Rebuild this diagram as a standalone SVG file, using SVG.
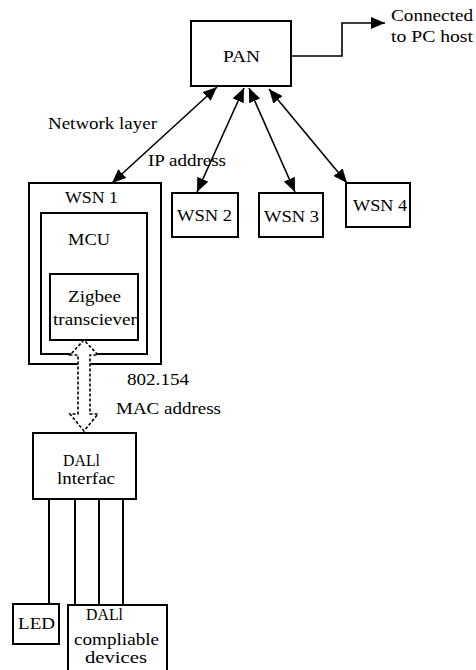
<svg xmlns="http://www.w3.org/2000/svg" width="476" height="670" viewBox="0 0 476 670">
<style>
  .box { fill: #fff; stroke: #000; stroke-width: 2; }
  .t { font-family: "Liberation Serif", "DejaVu Serif", "Times New Roman", serif; font-size: 17px; fill: #000; }
  .ln { fill: none; stroke: #000; stroke-width: 1.6; }
  .bus { fill: none; stroke: #000; stroke-width: 2; }
  .dash { fill: #fff; stroke: #000; stroke-width: 1.6; stroke-dasharray: 3 2; }
</style>
<defs>
  <marker id="ah" viewBox="0 0 14 12" refX="14" refY="6" markerWidth="14" markerHeight="12" markerUnits="userSpaceOnUse" orient="auto-start-reverse">
    <path d="M0,0 L14,6 L0,12 Z" fill="#000"/>
  </marker>
</defs>
<rect width="476" height="670" fill="#fff"/>

<g id="labels" font-family="Liberation Serif, DejaVu Serif, serif">
  <text class="t" x="391" y="21" textLength="82" lengthAdjust="spacingAndGlyphs">Connected</text>
  <text class="t" x="391" y="42" textLength="82" lengthAdjust="spacingAndGlyphs">to PC host</text>
  <text class="t" x="48" y="129" textLength="109" lengthAdjust="spacingAndGlyphs">Network layer</text>
  <text class="t" x="148" y="166" textLength="78" lengthAdjust="spacingAndGlyphs">IP address</text>
  <text class="t" x="127" y="385" textLength="62" lengthAdjust="spacingAndGlyphs">802.154</text>
  <text class="t" x="116" y="414" textLength="105" lengthAdjust="spacingAndGlyphs">MAC address</text>
</g>

<g id="pan">
  <rect class="box" x="191" y="21" width="100" height="65"/>
  <text class="t" x="223" y="62" textLength="37" lengthAdjust="spacingAndGlyphs">PAN</text>
</g>

<g id="wsn1">
  <rect class="box" x="29" y="183" width="132" height="181"/>
  <text class="t" x="65" y="203" textLength="53" lengthAdjust="spacingAndGlyphs">WSN 1</text>
</g>
<g id="mcu">
  <rect class="box" x="41" y="213" width="106" height="141"/>
  <text class="t" x="68" y="245" textLength="42" lengthAdjust="spacingAndGlyphs">MCU</text>
</g>
<g id="zigbee">
  <rect class="box" x="50" y="274" width="88" height="66"/>
  <text class="t" x="68" y="302" textLength="53" lengthAdjust="spacingAndGlyphs">Zigbee</text>
  <text class="t" x="53" y="325" textLength="84" lengthAdjust="spacingAndGlyphs">transciever</text>
</g>

<g id="wsn2">
  <rect class="box" x="172" y="193" width="66" height="44"/>
  <text class="t" x="177" y="221" textLength="55" lengthAdjust="spacingAndGlyphs">WSN 2</text>
</g>
<g id="wsn3">
  <rect class="box" x="259" y="193" width="64" height="44"/>
  <text class="t" x="264" y="222" textLength="55" lengthAdjust="spacingAndGlyphs">WSN 3</text>
</g>
<g id="wsn4">
  <rect class="box" x="346" y="183" width="64" height="44"/>
  <text class="t" x="353" y="211" textLength="54" lengthAdjust="spacingAndGlyphs">WSN 4</text>
</g>

<g id="dali">
  <rect class="box" x="33" y="433" width="103" height="66"/>
  <text class="t" x="63" y="466" textLength="37" lengthAdjust="spacingAndGlyphs">DALl</text>
  <text class="t" x="57" y="484" textLength="58" lengthAdjust="spacingAndGlyphs">lnterfac</text>
</g>

<g id="led">
  <rect class="box" x="13" y="604" width="46" height="40"/>
  <text class="t" x="18" y="629" textLength="37" lengthAdjust="spacingAndGlyphs">LED</text>
</g>

<g id="devices">
  <rect class="box" x="68" y="605" width="99" height="75"/>
  <text class="t" x="86" y="620" textLength="37" lengthAdjust="spacingAndGlyphs">DALl</text>
  <text class="t" x="74" y="645" textLength="85" lengthAdjust="spacingAndGlyphs">compliable</text>
  <text class="t" x="85" y="663" textLength="62" lengthAdjust="spacingAndGlyphs">devices</text>
</g>

<g id="connectors">
  <polyline class="ln" points="291,56 342,56 342,23 385,23" marker-end="url(#ah)"/>
  <line class="ln" x1="217" y1="87" x2="112" y2="183" marker-start="url(#ah)" marker-end="url(#ah)"/>
  <line class="ln" x1="244" y1="88" x2="197" y2="192" marker-start="url(#ah)" marker-end="url(#ah)"/>
  <line class="ln" x1="249" y1="88" x2="295" y2="192" marker-start="url(#ah)" marker-end="url(#ah)"/>
  <line class="ln" x1="269" y1="89" x2="347" y2="183" marker-start="url(#ah)" marker-end="url(#ah)"/>
  <polygon class="dash" points="84,340 70,355 78,355 78,414 70,414 84,431 98,414 90,414 90,355 98,355"/>
  <line class="bus" x1="49" y1="499" x2="49" y2="604"/>
  <line class="bus" x1="75" y1="499" x2="75" y2="605"/>
  <line class="bus" x1="99" y1="499" x2="99" y2="605"/>
  <line class="bus" x1="123" y1="499" x2="123" y2="605"/>
</g>
</svg>
